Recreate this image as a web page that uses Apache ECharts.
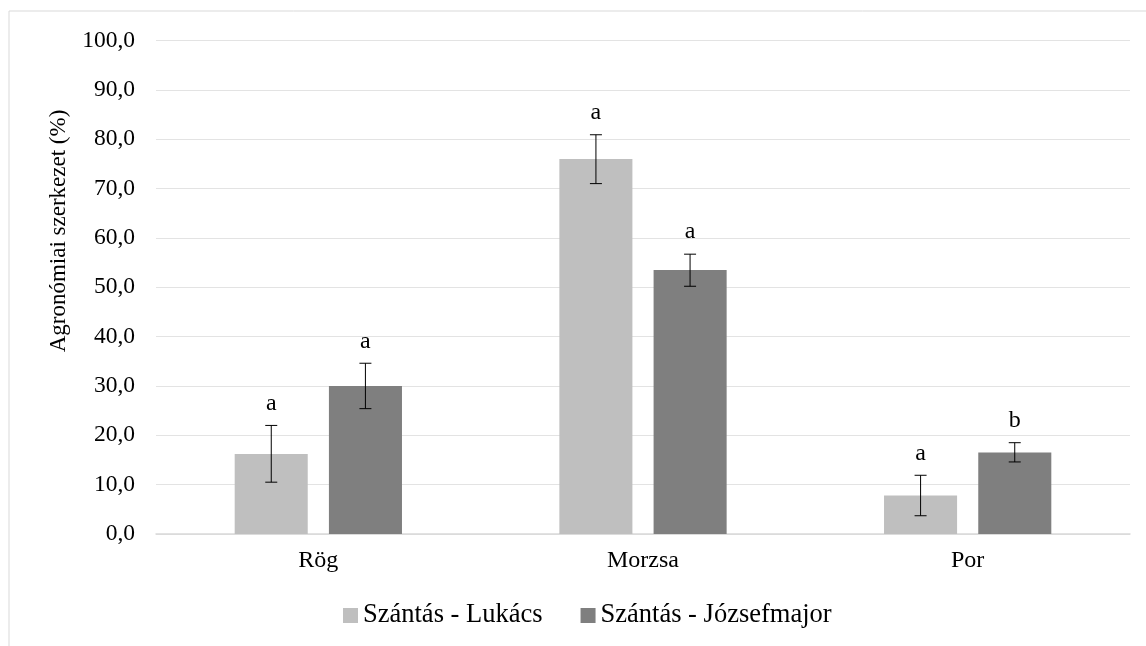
<!DOCTYPE html>
<html>
<head>
<meta charset="utf-8">
<script src="https://cdn.jsdelivr.net/npm/echarts@6/dist/echarts.min.js"></script>
<style>
html,body{margin:0;padding:0;background:#fff;}
#main{width:1146px;height:646px;}
</style>
</head>
<body>
<div id="main"></div>
<script>
const categories = ['Rög', 'Morzsa', 'Por'];
const seriesNames = ['Szántás - Lukács', 'Szántás - Józsefmajor'];
const lukacs = [16.2, 76.0, 7.8];
const jozsefmajor = [30.0, 53.5, 16.5];
const lukacsErrLow = [10.5, 71.0, 3.7];
const lukacsErrHigh = [22.0, 80.9, 11.9];
const jozsefErrLow = [25.4, 50.2, 14.6];
const jozsefErrHigh = [34.6, 56.7, 18.5];
const lukacsLetters = ['a', 'a', 'a'];
const jozsefLetters = ['a', 'a', 'b'];
const yTicks = [0, 10, 20, 30, 40, 50, 60, 70, 80, 90, 100];
const yAxisTitle = 'Agronómiai szerkezet (%)';

const font = 'Liberation Serif, Times New Roman, serif';
const colors = ['#bfbfbf', '#7f7f7f'];

const chart = echarts.init(document.getElementById('main'), null, {renderer: 'canvas'});

function errSeries(low, high, letters, seriesIndex) {
  const data = categories.map((c, i) => [i, low[i], high[i], letters[i]]);
  return {
    type: 'custom',
    name: 'err' + seriesIndex,
    z: 10,
    data: data,
    renderItem: function (params, api) {
      const idx = api.value(0);
      const lowP = api.coord([idx, api.value(1)]);
      const highP = api.coord([idx, api.value(2)]);
      const bw = api.size([1, 0])[0];
      const barW = bw * 0.225;
      const gap = bw * 0.065;
      const offset = (seriesIndex === 0 ? -1 : 1) * (barW + gap) / 2;
      const x = lowP[0] + offset;
      const cap = 6;
      const style = {stroke: '#000', lineWidth: 1};
      return {
        type: 'group',
        children: [
          {type: 'line', shape: {x1: x, y1: highP[1], x2: x, y2: lowP[1]}, style: style},
          {type: 'line', shape: {x1: x - cap, y1: highP[1], x2: x + cap, y2: highP[1]}, style: style},
          {type: 'line', shape: {x1: x - cap, y1: lowP[1], x2: x + cap, y2: lowP[1]}, style: style},
          {type: 'text', x: x, y: highP[1] - 22, style: {
            text: api.value(3), font: '24px ' + font, fill: '#000',
            align: 'center', verticalAlign: 'middle'
          }}
        ]
      };
    }
  };
}

chart.setOption({
  animation: false,
  color: colors,
  graphic: [
    {
      type: 'rect', shape: {x: 9, y: 11, width: 1160, height: 660},
      style: {fill: 'none', stroke: '#d9d9d9', lineWidth: 1}, silent: true
    },
    {
      type: 'text', x: 59, y: 231, rotation: Math.PI / 2,
      style: {text: yAxisTitle, font: '23px ' + font, fill: '#000', align: 'center', verticalAlign: 'middle'},
      silent: true
    }
  ],
  grid: {left: 156, right: 16, top: 40.5, bottom: 112, containLabel: false},
  legend: {
    data: seriesNames,
    top: 597,
    left: 338,
    itemWidth: 15,
    itemHeight: 15,
    itemGap: 38,
    icon: 'rect',
    textStyle: {fontFamily: font, fontSize: 26.5, color: '#000'}
  },
  xAxis: {
    type: 'category',
    data: categories,
    axisLine: {lineStyle: {color: '#d9d9d9', width: 1.5}},
    axisTick: {show: false},
    axisLabel: {fontFamily: font, fontSize: 24, color: '#000', margin: 15}
  },
  yAxis: {
    type: 'value',
    min: 0,
    max: 100,
    interval: 10,
    axisLine: {show: false},
    axisTick: {show: false},
    splitLine: {lineStyle: {color: '#e3e3e3', width: 1}},
    axisLabel: {
      fontFamily: font, fontSize: 23.5, color: '#000', margin: 21,
      formatter: function (v) { return yTicks.indexOf(v) >= 0 ? v.toFixed(1).replace('.', ',') : ''; }
    }
  },
  series: [
    {name: seriesNames[0], type: 'bar', data: lukacs, barWidth: '22.5%', barGap: '29%', itemStyle: {color: colors[0]}},
    {name: seriesNames[1], type: 'bar', data: jozsefmajor, barWidth: '22.5%', barGap: '29%', itemStyle: {color: colors[1]}},
    errSeries(lukacsErrLow, lukacsErrHigh, lukacsLetters, 0),
    errSeries(jozsefErrLow, jozsefErrHigh, jozsefLetters, 1)
  ]
});
</script>
</body>
</html>
